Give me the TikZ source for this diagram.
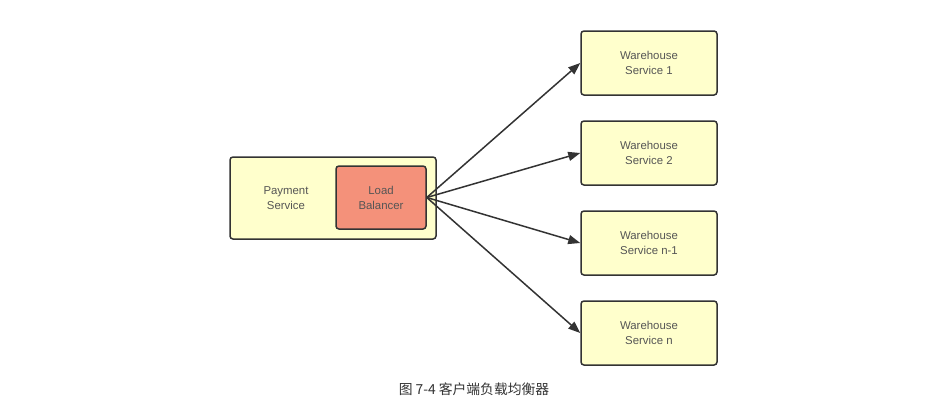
\documentclass[tikz,border=0pt]{standalone}
\usepackage{fontspec}
\setmainfont{Liberation Sans}
\newfontfamily\cjk{Noto Sans CJK SC}
\usetikzlibrary{arrows.meta}
\definecolor{boxfill}{HTML}{FFFFCC}
\definecolor{lbfill}{HTML}{F4917A}
\definecolor{edge}{HTML}{333333}
\definecolor{txt}{HTML}{555555}
\tikzset{
	svcbox/.style = {draw=edge, line width=1.5pt, rounded corners=3pt, fill=boxfill, inner sep=0pt},
	lbbox/.style = {svcbox, fill=lbfill},
	lbl/.style = {text=txt, font=\fontsize{11.4}{15}\selectfont, align=center},
	link/.style = {draw=edge, line width=1.5pt, -{Triangle[length=12pt,width=9pt]}}
}
\begin{document}
\begin{tikzpicture}[x=1pt, y=-1pt]

	\useasboundingbox (0,0) rectangle (943,413);

	\node[svcbox, minimum width=206pt, minimum height=82pt] (pay) at (333,198) {};
	\node[lbl] (paytxt) at (286,198) {Payment\\Service};
	\node[lbbox, lbl, minimum width=90pt, minimum height=63pt] (lb) at (381,197.5) {Load\\Balancer};

	\node[svcbox, lbl, minimum width=136pt, minimum height=64pt] (wh1) at (649,63) {Warehouse\\Service 1};
	\node[svcbox, lbl, minimum width=136pt, minimum height=64pt] (wh2) at (649,153) {Warehouse\\Service 2};
	\node[svcbox, lbl, minimum width=136pt, minimum height=64pt] (wh3) at (649,243) {Warehouse\\Service n-1};
	\node[svcbox, lbl, minimum width=136pt, minimum height=64pt] (wh4) at (649,333) {Warehouse\\Service n};

	\foreach \w in {wh1,wh2,wh3,wh4}
		\draw[link] (lb.east) -- (\w.west);

	\node[text=edge, font=\cjk\fontsize{13.8}{16}\selectfont] (cap) at (474,389) {图 7-4 客户端负载均衡器};

\end{tikzpicture}
\end{document}
